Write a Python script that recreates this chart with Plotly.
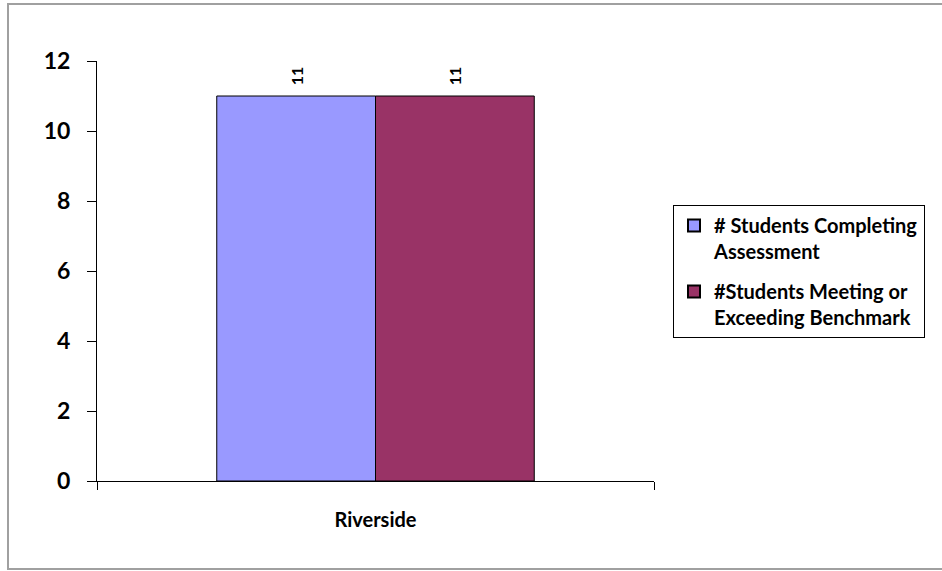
import plotly.graph_objects as go

categories = ["Riverside"]
series_names = ["# Students Completing<br>Assessment", "#Students Meeting or<br>Exceeding Benchmark"]
completing = [11]
meeting = [11]
colors = ["#9999FF", "#993366"]

W, H = 942, 571
L, R, T, B = 97, 942 - 654, 61, 571 - 481
pw, ph = W - L - R, H - T - B

FONT = "Lato, 'Open Sans', sans-serif"

fig = go.Figure()
for i, (name, vals, col) in enumerate(zip(series_names, [completing, meeting], colors)):
    fig.add_trace(go.Bar(
        x=categories, y=vals, name=name, legendgroup=f"g{i}",
        marker=dict(color=col, line=dict(color="black", width=1)),
        text=vals, texttemplate="\u00a0\u00a0%{text}", textposition="outside", textangle=-90,
        textfont=dict(family=FONT, size=16, color="black", weight="bold"),
        cliponaxis=False,
    ))

fig.update_layout(
    width=W, height=H,
    margin=dict(l=L, r=R, t=T, b=B),
    paper_bgcolor="white", plot_bgcolor="white",
    barmode="group", bargap=0.43, bargroupgap=0,
    showlegend=True,
    legend=dict(
        x=(673 - L) / pw, y=(481 - 205) / ph, xanchor="left", yanchor="top",
        bordercolor="black", borderwidth=1, bgcolor="white",
        font=dict(family=FONT, size=20, color="black", weight="bold"),
        tracegroupgap=11, itemsizing="constant", itemwidth=30, valign="top",
    ),
    xaxis=dict(
        showline=True, linecolor="black", linewidth=1,
        ticks="outside", ticklen=8, tickcolor="black", tickson="boundaries",
        tickfont=dict(family=FONT, size=20, color="black", weight="bold"),
        ticklabelstandoff=21, showgrid=False,
    ),
    yaxis=dict(
        range=[0, 12], dtick=2, tick0=0,
        showline=True, linecolor="black", linewidth=1,
        ticks="outside", ticklen=9, tickcolor="black",
        tickfont=dict(family=FONT, size=23, color="black", weight="bold"),
        ticklabelstandoff=12, showgrid=False, zeroline=False,
    ),
    shapes=[dict(
        type="rect", xref="paper", yref="paper",
        x0=(8 - L) / pw, x1=(960 - L) / pw,
        y0=(481 - 569) / ph, y1=(481 - 4) / ph,
        line=dict(color="#A0A0A0", width=2), fillcolor="rgba(0,0,0,0)", layer="below",
    )],
)

fig.write_html(
    "out.html", config={"displayModeBar": False},
    post_script="document.body.style.margin='0';document.body.style.overflow='hidden';"
                "document.documentElement.style.overflow='hidden';",
)
